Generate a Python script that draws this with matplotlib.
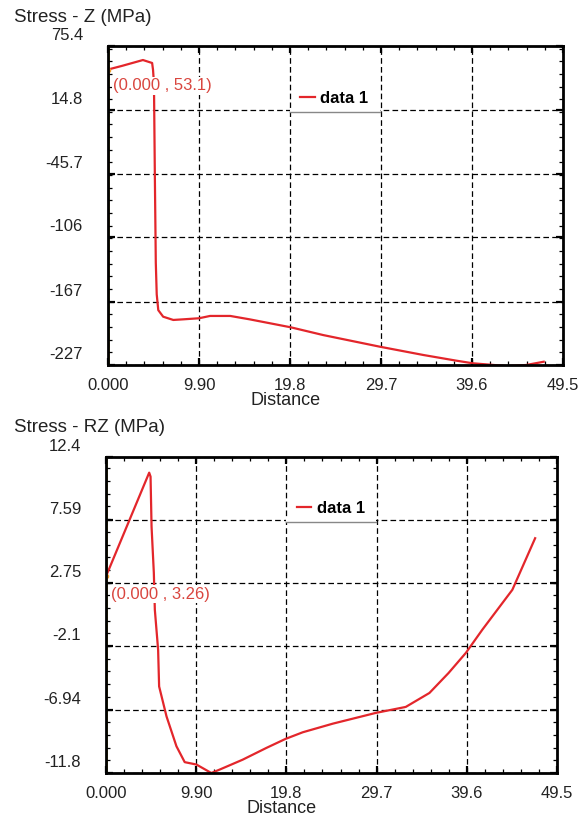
import numpy as np
import matplotlib
matplotlib.use('Agg')
import matplotlib.pyplot as plt
from matplotlib.ticker import FixedLocator, AutoMinorLocator
from matplotlib.transforms import ScaledTranslation

plt.rcParams['font.family'] = ['Liberation Sans', 'DejaVu Sans']

# top panel: Stress - Z
dist_z = [0.0, 1.5, 3.8, 4.8, 4.9, 5.0, 5.1, 5.2, 5.3, 5.47, 6.0, 7.1, 8.2, 9.9,
          11.1, 13.3, 15.4, 17.3, 19.9, 23.4, 29.6, 34.3, 37.9, 39.7, 43.4, 45.5, 47.4]
stress_z = [53.1, 56.5, 62.1, 59.3, 52.7, 40.0, -50.0, -130.0, -160.0, -175.0, -181.2,
            -184.3, -183.7, -182.7, -180.5, -180.5, -183.7, -186.9, -191.3, -198.6,
            -209.7, -217.5, -222.9, -225.4, -228.0, -227.0, -223.9]
yticks_z = [75.4, 14.8, -45.7, -106, -167, -227]

# bottom panel: Stress - RZ
dist_rz = [0.0, 4.74, 4.89, 5.0, 5.25, 5.36, 5.72, 5.83, 6.64, 7.73, 8.64, 9.92,
           11.56, 12.47, 15.0, 17.6, 19.7, 21.6, 24.9, 29.6, 32.9, 35.5, 37.6, 39.5,
           41.3, 44.6, 47.1]
stress_rz = [3.26, 11.2, 10.9, 7.07, 3.53, 0.70, -2.36, -5.17, -7.46, -9.75, -10.97,
             -11.15, -11.8, -11.54, -10.78, -9.88, -9.19, -8.68, -8.02, -7.2, -6.74,
             -5.67, -4.14, -2.6, -0.83, 2.23, 6.18]
yticks_rz = [12.4, 7.59, 2.75, -2.1, -6.94, -11.8]

xticks = [0.0, 9.9, 19.8, 29.7, 39.6, 49.5]
xticklabels = ['0.000', '9.90', '19.8', '29.7', '39.6', '49.5']

red = '#e3262b'
ann_red = '#d9463f'

fig = plt.figure(figsize=(5.78, 8.18), dpi=100)
fig.patch.set_facecolor('white')

panels = [
    ([108/578, 1 - 365/818, 455/578, 319/818], dist_z, stress_z, yticks_z,
     'Stress - Z (MPa)', 17, '(0.000 , 53.1)', 0.875),
    ([106/578, 1 - 773/818, 451/578, 316/818], dist_rz, stress_rz, yticks_rz,
     'Stress - RZ (MPa)', 428, '(0.000 , 3.26)', 0.566),
]

for rect, xs, ys, yt, title, ty, ann, ann_y in panels:
    ax = fig.add_axes(rect)
    ax.set_xlim(0, 49.5)
    ax.set_ylim(yt[-1], yt[0])

    ax.axvline(0, color='#d8c800', lw=2.6, zorder=1)
    line, = ax.plot(xs, ys, color=red, lw=1.6, label='data 1', zorder=3)
    ax.plot([xs[0]], [ys[0]], 'o', color='#f0a030', ms=3, zorder=4)

    ax.xaxis.set_major_locator(FixedLocator(xticks))
    ax.set_xticklabels(xticklabels)
    ax.yaxis.set_major_locator(FixedLocator(yt))
    ax.set_yticklabels([f'{v:g}' for v in yt])
    ax.xaxis.set_minor_locator(AutoMinorLocator(5))
    ax.yaxis.set_minor_locator(AutoMinorLocator(5))

    ax.tick_params(which='both', direction='in', top=True, right=True, colors='black',
                   labelsize=12, labelcolor='#222222')
    ax.tick_params(which='major', length=5, width=1.6)
    ax.tick_params(which='minor', length=3, width=0.9)
    ax.tick_params(axis='x', which='major', pad=9)
    ax.tick_params(axis='y', which='major', pad=18)
    for spine in ax.spines.values():
        spine.set_linewidth(2)
        spine.set_color('black')
        spine.set_zorder(5)

    ax.grid(which='major', color='black', linestyle=(0, (4.5, 2.6)), lw=0.9)

    # y labels sit a little above their tick positions
    shift = ScaledTranslation(0, 12/100, fig.dpi_scale_trans)
    for lab in ax.get_yticklabels():
        lab.set_transform(lab.get_transform() + shift)

    ax.set_xlabel('Distance', fontsize=13, color='#222222')
    ax.xaxis.set_label_coords(0.39, -0.085)

    fig.text(14/578, 1 - ty/818, title, fontsize=13.5, color='#222222',
             ha='left', va='center')

    ax.text(0.011, ann_y, ann, transform=ax.transAxes, color=ann_red, fontsize=12,
            ha='left', va='center', zorder=6,
            bbox=dict(facecolor='white', edgecolor='none', pad=1))

    leg = ax.legend(handles=[line], loc='lower left', bbox_to_anchor=(0.41, 0.794),
                    borderaxespad=0, borderpad=0.35, handlelength=0.85,
                    handletextpad=0.35, fancybox=False, framealpha=1,
                    prop={'weight': 'bold', 'size': 12})
    leg.get_frame().set_edgecolor('white')
    leg.get_frame().set_linewidth(0)
    leg.set_zorder(6)
    # legend box bottom edge sits over the gridline
    ax.plot([0.40, 0.598], [0.80, 0.80], transform=ax.transAxes, color='white',
            lw=3, zorder=6.5, clip_on=False, solid_capstyle='butt')
    ax.plot([0.40, 0.598], [0.794, 0.794], transform=ax.transAxes, color='#888888',
            lw=1, zorder=7, clip_on=False)

fig.savefig('out.png', dpi=100, facecolor='white')
